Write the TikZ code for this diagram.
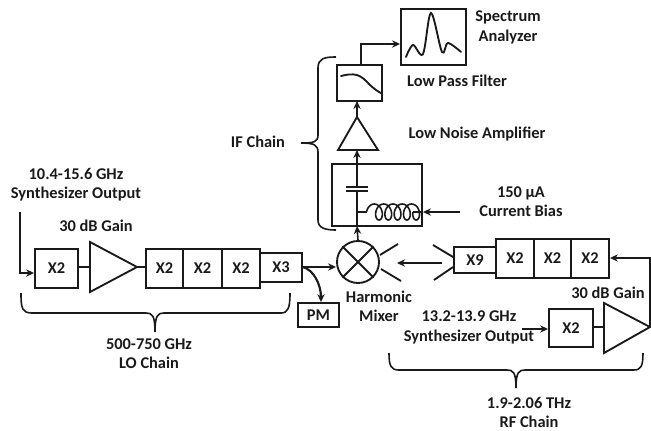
\documentclass[tikz,border=0pt]{standalone}
\usepackage{fontspec}
\setmainfont{Carlito}
\usetikzlibrary{arrows.meta,shapes.geometric}
\definecolor{ink}{HTML}{1A1A1A}
\tikzset{
  px/.style={x=.75pt,y=-.75pt},
  wire/.style={draw=ink,line width=1.2pt},
  thickwire/.style={draw=ink,line width=1.7pt},
  arrowed/.style={wire,-{Stealth[length=6pt,width=5.5pt]}},
  boxnode/.style 2 args={draw=ink,line width=1.4pt,inner sep=0pt,minimum width=#1*.75pt,minimum height=#2*.75pt,font=\fontsize{12.3}{13}\selectfont\bfseries,text=ink},
  label/.style={font=\fontsize{12.3}{13}\selectfont\bfseries,text=ink,inner sep=0pt,align=center},
  shapeline/.style={draw=ink,line width=1.4pt,line join=miter},
  trace/.style={draw=ink,line width=1.4pt,line cap=round}
}
\begin{document}
\begin{tikzpicture}[px]
\useasboundingbox (0,0) rectangle (651,430);
% LO chain
\node[boxnode={43}{39}] (lox) at (56.5,268.5) {X2};
\coordinate (loaA) at (90,242); \coordinate (loaB) at (90,292); \coordinate (loaT) at (137,267);
\draw[shapeline] (loaA) -- (loaT) -- (loaB) -- cycle;
\node[boxnode={37}{39}] (loa) at (164.5,268.5) {X2};
\node[boxnode={39}{39}] (lob) at (202.5,268.5) {X2};
\node[boxnode={38}{39}] (loc) at (241,268.5) {X2};
\node[boxnode={42}{29}] (lod) at (281,267.5) {X3};
\node[boxnode={41}{24}] (pm) at (318.5,315) {PM};
\coordinate (losyn) at (20,212);
\draw[arrowed] (losyn) -- (20,273) -- (lox.west |- 0,273);
\draw[thickwire] (lox.east |- 0,267) -- (90,267);
\draw[thickwire] (loaT) -- (loa.west |- loaT);
% mixer
\node[draw=ink,line width=1.4pt,circle,minimum size=31.5pt,inner sep=0pt] (mix) at (358,262) {};
\draw[shapeline] (mix.north west) -- (mix.south east) (mix.north east) -- (mix.south west);
\draw[arrowed] (lod.east |- 0,267) -- (mix.west |- 0,267);
\draw[draw=ink,line width=1.6pt,-{Stealth[length=6pt,width=5.5pt]}] (lod.east |- 0,267) .. controls (314,270) and (321,285) .. (pm.north -| 321,0);
\coordinate (mixUa) at (380,255); \coordinate (mixUb) at (398,244);
\coordinate (mixLa) at (381,269); \coordinate (mixLb) at (401,281);
\draw[shapeline] (mixUa) -- (mixUb) (mixLa) -- (mixLb);
% RF chain
\node[boxnode={42}{26}] (rfn) at (475,260) {X9};
\node[boxnode={38}{39}] (rfa) at (515,258.5) {X2};
\node[boxnode={37}{39}] (rfb) at (552.5,258.5) {X2};
\node[boxnode={38}{39}] (rfc) at (590,258.5) {X2};
\coordinate (rfUa) at (433,245); \coordinate (rfLa) at (434,280);
\draw[shapeline] (rfUa) -- (rfn.north west |- 0,257) (rfLa) -- (rfn.south west |- 0,267);
\coordinate (rfarrowS) at (442,263); \coordinate (rfarrowE) at (397,263);
\draw[arrowed] (rfarrowS) -- (rfarrowE);
\node[boxnode={44}{38}] (rfx) at (571,328) {X2};
\coordinate (rfaA) at (604,303); \coordinate (rfaB) at (604,353); \coordinate (rfaT) at (650,327);
\draw[shapeline] (rfaA) -- (rfaT) -- (rfaB) -- cycle;
\draw[thickwire] (rfx.east |- 0,327) -- (604,327);
\draw[arrowed] (rfaT) -- (650,258) -- (rfc.east |- 0,258);
\coordinate (rfsyn) at (522,329);
\draw[arrowed] (rfsyn) -- (rfx.west |- rfsyn);
% IF chain
\node[draw=ink,line width=1.4pt,inner sep=0pt,minimum width=67.5pt,minimum height=46.5pt] (ifbox) at (377,195) {};
\coordinate (lnaT) at (357,117); \coordinate (lnaL) at (338,150); \coordinate (lnaR) at (378,150);
\draw[shapeline] (lnaT) -- (lnaL) -- (lnaR) -- cycle;
\node[draw=ink,line width=1.4pt,inner sep=0pt,minimum width=33.75pt,minimum height=27pt] (lpf) at (359.5,83) {};
\node[draw=ink,line width=1.4pt,inner sep=0pt,minimum width=48.75pt,minimum height=42pt] (sa) at (433.5,37) {};
\draw[arrowed] (mix.north) -- (357,226);
\draw[arrowed] (357,164) -- (357,150);
\draw[wire] (357,164) -- (357,187);
\draw[wire] (357,191) -- (357,226);
\draw[thickwire] (346,187) -- (368,187) (346,191) -- (368,191);
\draw[wire] (357,212) -- (366.5,212);
\draw[wire] plot[smooth,domain=0:1800,samples=181,variable=\t] ({372+\t/360*9.3-5.5*cos(\t)},{212-8*sin(\t)});
\draw[wire] (413,212) -- (ifbox.east |- 0,212);
\coordinate (biasS) at (460,212);
\draw[draw=ink,line width=1.7pt,-{Stealth[length=6pt,width=5.5pt]}] (biasS) -- (ifbox.east |- biasS);
\draw[arrowed] (lnaT) -- (357,101);
\draw[arrowed] (361,65) -- (361,44) -- (sa.west |- 0,44);
\draw[trace] plot[smooth,tension=.6] coordinates {(341,76) (349,74.5) (357,75) (364,79) (370,85) (376,90) (381,93)};
\draw[trace] plot[smooth,tension=.55] coordinates {(406,57) (413,45) (423,54) (431,13) (442,52) (448,43) (461,52)};
% braces
\draw[wire] (336,57) .. controls (325,57) and (318,58) .. (318,68) -- (318,135) .. controls (318,142) and (314,143) .. (301,143) .. controls (314,143) and (318,145) .. (318,152) -- (318,220) .. controls (318,228) and (325,230) .. (336,230);
\draw[wire] (21,293) .. controls (21,308) and (22,313) .. (32,313) -- (146,313) .. controls (152,313) and (155,315) .. (155,332) .. controls (155,315) and (158,313) .. (164,313) -- (281,313) .. controls (288,313) and (290,308) .. (290,293);
\draw[wire] (389,353) .. controls (389,366) and (391,370) .. (399,370) -- (507,370) .. controls (513,370) and (516,372) .. (516,388) .. controls (516,372) and (519,370) .. (525,370) -- (634,370) .. controls (641,370) and (643,366) .. (643,353);
% labels
\node[label] (t1) at (76,184.5) {10.4-15.6 GHz\\[1.4pt]Synthesizer Output};
\node[label] (t2) at (96,226) {30 dB Gain};
\node[label] (t3) at (149,354) {500-750 GHz\\[1.4pt]LO Chain};
\node[label] (t4) at (508,27.5) {Spectrum\\[1.4pt]Analyzer};
\node[label] (t5) at (457,81) {Low Pass Filter};
\node[label] (t6) at (477,134) {Low Noise Amplifier};
\node[label] (t7) at (521,202) {150 µA\\[1.4pt]Current Bias};
\node[label] (t8) at (258,142) {IF Chain};
\node[label] (t9) at (379,306) {Harmonic\\[1.4pt]Mixer};
\node[label] (t10) at (608,293) {30 dB Gain};
\node[label] (t11) at (469,327.5) {13.2-13.9 GHz\\[1.4pt]Synthesizer Output};
\node[label] (t12) at (529,412.5) {1.9-2.06 THz\\[1.4pt]RF Chain};
\end{tikzpicture}
\end{document}
